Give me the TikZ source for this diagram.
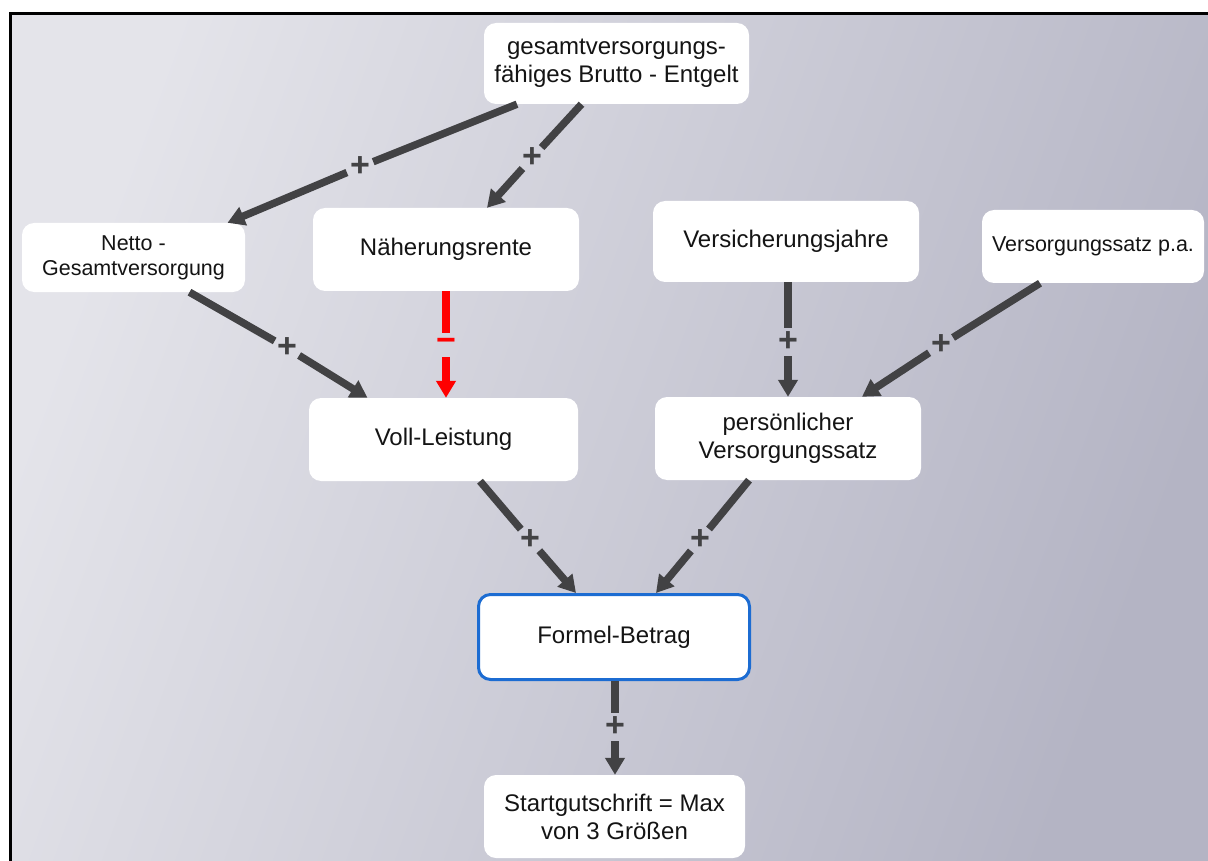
\documentclass[tikz,border=0pt]{standalone}
\usepackage{fontspec}
\setmainfont{Liberation Sans}
\usetikzlibrary{arrows.meta}
\definecolor{conn}{RGB}{66,66,68}
\definecolor{bgA}{RGB}{228,228,234}
\definecolor{bgB}{RGB}{180,180,196}
\definecolor{frameblue}{RGB}{28,108,210}
\begin{document}
\begin{tikzpicture}[x=1pt,y=-1pt,
  box/.style={fill=white, rounded corners=12pt, align=center, inner sep=0pt, text=black!92,
    font=\fontsize{24}{28}\selectfont},
  smallbox/.style={box, font=\fontsize{21.5}{25}\selectfont},
  line/.style={draw=conn, line width=7.5pt},
  arr/.style={line, -{Triangle[length=17pt,width=19pt]}},
  plus/.style={circle, inner sep=0pt, minimum size=27pt, text=conn,
    font=\bfseries\fontsize{34}{34}\selectfont},
]
\useasboundingbox (0,0) rectangle (1208,861);
% background
\fill[white] (0,0) rectangle (1208,861);
\shade[left color=bgA, right color=bgB, shading angle=70] (10.5,13.3) rectangle (1208,861);
\draw[line width=3pt] (10.5,861) -- (10.5,13.3) -- (1208,13.3);

% nodes
\node[box, minimum width=265pt, minimum height=81pt] (g) at (616.5,63.5) {gesamtversorgungs-\\fähiges Brutto - Entgelt};
\node[smallbox, minimum width=223pt, minimum height=69pt] (netto) at (133.5,257.5) {Netto -\\Gesamtversorgung};
\node[box, minimum width=266pt, minimum height=83pt] (naeher) at (446,249.5) {Näherungsrente};
\node[box, minimum width=266pt, minimum height=81pt] (versj) at (786,241.5) {Versicherungsjahre};
\node[smallbox, minimum width=222pt, minimum height=73pt] (verss) at (1093,246.5) {Versorgungssatz p.a.};
\node[box, minimum width=269pt, minimum height=83pt] (voll) at (443.5,439.5) {Voll-Leistung};
\node[box, minimum width=266pt, minimum height=83pt] (pers) at (788,438.5) {persönlicher\\Versorgungssatz};
\node[box, draw=frameblue, line width=3pt, minimum width=271pt, minimum height=85pt] (formel) at (614,637) {Formel-Betrag};
\node[box, minimum width=261pt, minimum height=83pt] (start) at (614.5,816.5) {Startgutschrift = Max\\von 3 Größen};

% connector labels
\node[plus] (p1) at (360,167) {+};
\node[plus] (p2) at (532,158) {+};
\node[plus] (p3) at (287,348) {+};
\node[plus, text=red, minimum size=14pt] (m4) at (446,345) {−};
\node[plus] (p5) at (788,342) {+};
\node[plus] (p6) at (941,345) {+};
\node[plus] (p7) at (530,540) {+};
\node[plus] (p8) at (700,540) {+};
\node[plus] (p9) at (615,727) {+};

% connectors
\draw[line] ([xshift=-99.5pt]g.south) -- (p1);
\draw[arr] (p1) -- ([xshift=94pt]netto.north);
\draw[line] ([xshift=-35pt]g.south) -- (p2);
\draw[arr] (p2) -- ([xshift=41pt]naeher.north);
\draw[line] ([xshift=56pt]netto.south) -- (p3);
\draw[arr] (p3) -- ([xshift=-76pt]voll.north);
\draw[line, draw=red] (naeher.south) -- (m4);
\draw[arr, draw=red] (m4) -- (m4 |- voll.north);
\draw[line] ([xshift=2pt]versj.south) -- (p5);
\draw[arr] (p5) -- (p5 |- pers.north);
\draw[line] ([xshift=-53pt]verss.south) -- (p6);
\draw[arr] (p6) -- ([xshift=74pt]pers.north);
\draw[line] ([xshift=36.5pt]voll.south) -- (p7);
\draw[arr] (p7) -- ([xshift=-38pt]formel.north);
\draw[line] ([xshift=-39pt]pers.south) -- (p8);
\draw[arr] (p8) -- ([xshift=42pt]formel.north);
\draw[line] ([xshift=1pt]formel.south) -- (p9);
\draw[arr] (p9) -- (p9 |- start.north);
\end{tikzpicture}
\end{document}
